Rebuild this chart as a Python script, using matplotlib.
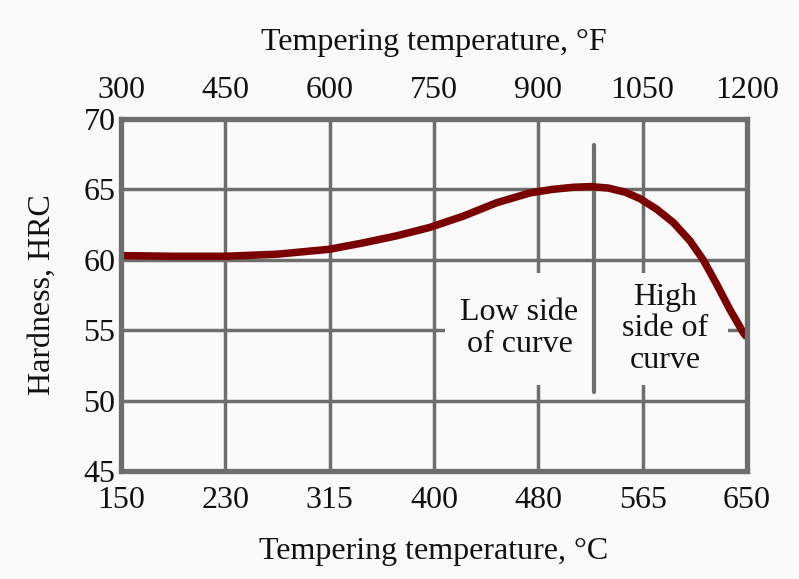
#!/usr/bin/env python3
"""Hardness vs tempering temperature, with the low/high side split of the curve."""
import numpy as np
import matplotlib
matplotlib.use("Agg")
import matplotlib.pyplot as plt
from matplotlib.patches import Rectangle

# data: curve read in degF (the grid is linear in F), HRC
temp_f = [300, 375, 450, 525, 600, 648, 696, 744, 792, 840, 888, 920, 950,
          975, 1000, 1025, 1046, 1070, 1094, 1118, 1137, 1156, 1175, 1195, 1200]
hrc = [60.3, 60.25, 60.25, 60.4, 60.75, 61.2, 61.7, 62.3, 63.1, 64.05, 64.75,
       65.0, 65.15, 65.2, 65.1, 64.8, 64.35, 63.6, 62.65, 61.35, 60.0, 58.3,
       56.5, 54.8, 54.5]
ticks_f = [300, 450, 600, 750, 900, 1050, 1200]
labels_c = ["150", "230", "315", "400", "480", "565", "650"]
ticks_hrc = [45, 50, 55, 60, 65, 70]
split_f = 980                      # boundary between low and high side
split_hrc = (50.6, 68.15)

BG, GRID, CURVE, INK = "#fafafa", "#6e6e6e", "#7a0000", "#111111"
FONT = "Liberation Serif"
FS = 23

fig = plt.figure(figsize=(7.99, 5.79), dpi=100, facecolor=BG)
ax = fig.add_axes([121 / 799, 108 / 579, 626 / 799, 352 / 579])
ax.set_facecolor(BG)
ax.set_xlim(ticks_f[0], ticks_f[-1])
ax.set_ylim(ticks_hrc[0], ticks_hrc[-1])

ax.set_xticks(ticks_f)
ax.set_xticklabels(labels_c)
ax.set_yticks(ticks_hrc)
ax.tick_params(length=0, labelsize=FS, colors=INK, pad=10.5)
ax.tick_params(axis="y", pad=4)
for lab in ax.get_xticklabels() + ax.get_yticklabels():
    lab.set_fontfamily(FONT)
ax.grid(True, color=GRID, lw=2.5, zorder=1)
ax.set_axisbelow(True)
for s in ax.spines.values():
    s.set_color(GRID); s.set_linewidth(3.8); s.set_zorder(6)

top = ax.twiny()
top.set_xlim(ax.get_xlim())
top.set_xticks(ticks_f)
top.set_xticklabels([str(t) for t in ticks_f])
top.tick_params(length=0, labelsize=FS, colors=INK, pad=10)
for lab in top.get_xticklabels():
    lab.set_fontfamily(FONT)
for s in top.spines.values():
    s.set_visible(False)

# blank patch behind the annotation text (breaks the grid there)
ax.add_patch(Rectangle((766, 51.1), 1172 - 766, 59.06 - 51.1, fc=BG, ec="none",
                       zorder=2))
ax.plot([split_f, split_f], split_hrc, color=GRID, lw=3, solid_capstyle="round",
        zorder=3)

ax.plot(temp_f, hrc, color=CURVE, lw=5.4, solid_capstyle="butt",
        solid_joinstyle="round", zorder=5, clip_on=False)

T = dict(fontsize=FS, color=INK, family=FONT, ha="center", va="center",
         linespacing=1.12, zorder=7)
ax.text(873, 55.1, "Low side\nof curve", **T)
ax.text(1083, 55.1, "High\nside of\ncurve", **T)

ax.set_xlabel("Tempering temperature, \u00b0C", fontsize=FS, family=FONT,
              color=INK, labelpad=16)
top.set_xlabel("Tempering temperature, \u00b0F", fontsize=FS, family=FONT,
               color=INK, labelpad=19)
ax.set_ylabel("Hardness, HRC", fontsize=FS, family=FONT, color=INK,
              labelpad=19)

fig.savefig("out.png", dpi=100, facecolor=BG)
